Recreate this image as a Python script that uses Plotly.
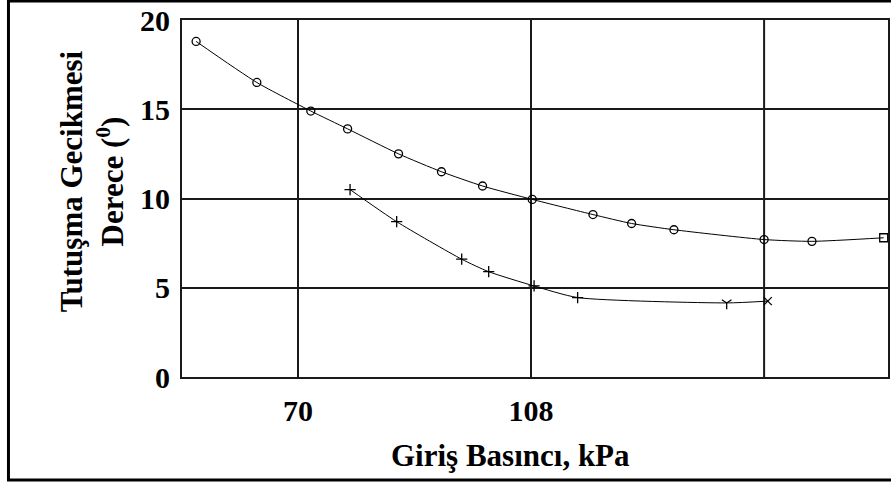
import plotly.graph_objects as go

# Ignition delay vs. inlet pressure
press_a = [53.4, 63.3, 72.1, 78.1, 86.4, 93.4, 100.1, 108.2, 118.1, 124.4, 131.3, 146.0, 153.8, 165.5]
delay_a = [18.8, 16.5, 14.9, 13.9, 12.5, 11.5, 10.7, 9.95, 9.1, 8.6, 8.25, 7.7, 7.6, 7.8]
symbols_a = ["circle-open"] * 13 + ["square-open"]

press_b = [78.5, 86.1, 96.7, 101.1, 108.5, 115.6, 139.9, 146.6]
delay_b = [10.5, 8.7, 6.6, 5.9, 5.1, 4.45, 4.15, 4.25]
symbols_b = ["cross-thin"] * 6 + ["y-down-open", "x-thin"]

x_ticks = [70, 108]
x_extra_grid = [146]
y_ticks = [0, 5, 10, 15, 20]

SERIF = "Liberation Serif"
GRID = "#1a1a1a"

fig = go.Figure()
fig.add_trace(go.Scatter(
    x=press_a, y=delay_a, mode="lines+markers",
    line=dict(color="black", width=1, shape="spline", smoothing=0.6),
    marker=dict(symbol=symbols_a, size=8, color="black", line=dict(color="black", width=1.3)),
    showlegend=False, cliponaxis=False,
))
fig.add_trace(go.Scatter(
    x=press_b, y=delay_b, mode="lines+markers",
    line=dict(color="black", width=1, shape="spline", smoothing=0.6),
    marker=dict(symbol=symbols_b, size=8, color="black", line=dict(color="black", width=1.3)),
    showlegend=False, cliponaxis=False,
))

tick_font = dict(family=SERIF, size=30, color="black", weight="bold")

fig.update_xaxes(
    range=[51.1, 166.2], tickvals=x_ticks,
    showgrid=True, gridcolor=GRID, gridwidth=2,
    showline=True, mirror=True, linecolor=GRID, linewidth=2,
    zeroline=False, ticks="", tickfont=tick_font, ticklabelstandoff=6,
)
fig.update_yaxes(
    range=[0, 20], tickvals=y_ticks,
    showgrid=True, gridcolor=GRID, gridwidth=2,
    showline=True, mirror=True, linecolor=GRID, linewidth=2,
    zeroline=False, ticks="", tickfont=tick_font, ticklabelstandoff=4,
)

shapes = [
    dict(type="rect", xref="paper", yref="paper",
         x0=-0.2458, x1=1.01, y0=-0.2885, y1=1.053,
         line=dict(color="black", width=3), layer="below"),
]
for gx in x_extra_grid:
    shapes.append(dict(type="line", xref="x", yref="paper", x0=gx, x1=gx, y0=0, y1=1,
                       line=dict(color=GRID, width=2), layer="below"))

fig.update_layout(
    width=891, height=484,
    margin=dict(l=182, r=1, t=20, b=107),
    paper_bgcolor="white", plot_bgcolor="white",
    annotations=[
        dict(text="<b>Tutuşma Gecikmesi<br>Derece (<sup>0</sup>)</b>",
             xref="paper", yref="paper", x=-0.1285, y=0.549,
             xanchor="center", yanchor="middle", textangle=-90, showarrow=False,
             font=dict(family=SERIF, size=31, color="black")),
        dict(text="<b>Giriş Basıncı, kPa</b>",
             xref="paper", yref="paper", x=0.466, y=-0.2185,
             xanchor="center", yanchor="middle", showarrow=False,
             font=dict(family=SERIF, size=31, color="black")),
    ],
    shapes=shapes,
)

fig.write_html("out.html")
